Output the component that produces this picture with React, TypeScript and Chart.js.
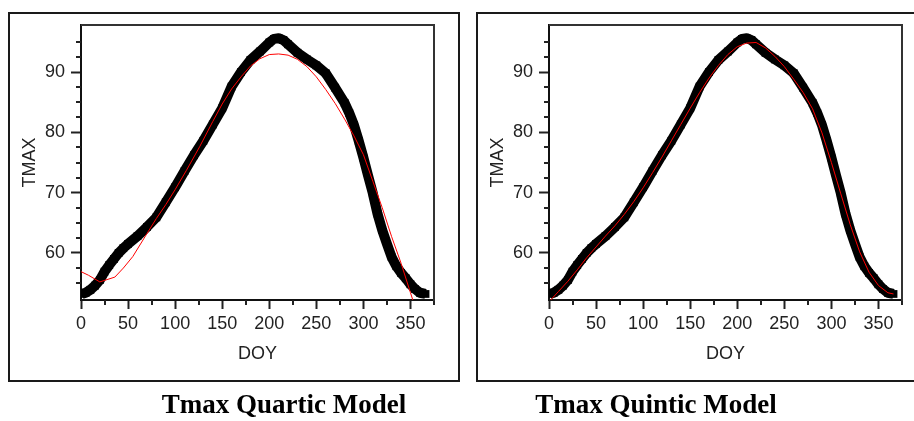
import React, { useEffect, useRef } from "react";
import { Chart, registerables } from "chart.js";

Chart.register(...registerables);

// Observed daily mean Tmax (black band)
const DOY_OBS = [1, 5, 10, 15, 20, 25, 30, 35, 40, 45, 50, 60, 70, 80, 90, 100, 110, 120, 130, 140, 150, 160, 170, 180, 190, 200, 205, 210, 215, 220, 230, 240, 250, 260, 270, 280, 285, 290, 295, 300, 305, 310, 315, 320, 325, 330, 335, 340, 345, 350, 355, 360, 366];
const TMAX_OBS = [53.2, 53.4, 53.9, 54.6, 55.5, 56.9, 58.0, 59.0, 60.0, 60.8, 61.5, 62.8, 64.3, 65.9, 68.4, 70.9, 73.6, 76.2, 78.6, 81.3, 84.0, 87.6, 90.0, 92.0, 93.4, 94.9, 95.5, 95.6, 95.3, 94.6, 93.2, 92.1, 91.1, 89.8, 87.4, 84.9, 83.2, 81.2, 78.6, 75.8, 72.8, 69.9, 66.5, 63.8, 61.5, 59.3, 57.8, 56.7, 55.8, 54.8, 54.0, 53.4, 53.2];

// Quartic model (red, left panel)
const DOY_QUARTIC = [0, 8, 20, 36, 45, 55, 70, 80, 90, 100, 112, 126, 140, 150, 160, 170, 180, 190, 200, 210, 220, 230, 240, 250, 260, 270, 280, 290, 300, 310, 320, 330, 340, 350, 355];
const TMAX_QUARTIC = [56.9, 56.3, 55.2, 56.0, 57.5, 59.4, 63.2, 65.7, 68.0, 70.5, 73.7, 77.6, 81.8, 84.7, 87.2, 89.2, 91.0, 92.2, 92.9, 93.0, 92.8, 92.1, 90.9, 89.2, 87.1, 84.8, 82.2, 79.4, 76.3, 71.9, 67.5, 62.7, 58.3, 53.4, 51.0];

// Quintic model (red, right panel)
const DOY_QUINTIC = [0, 10, 20, 30, 40, 50, 60, 70, 80, 90, 100, 110, 120, 130, 140, 150, 160, 170, 180, 190, 200, 210, 220, 230, 240, 250, 260, 270, 280, 290, 300, 310, 320, 330, 340, 350, 360, 366];
const TMAX_QUINTIC = [51.9, 53.6, 55.3, 57.2, 59.2, 61.0, 62.8, 64.5, 66.4, 68.5, 70.8, 73.3, 75.9, 78.6, 81.3, 84.0, 86.6, 89.0, 91.1, 92.9, 94.2, 94.8, 94.9, 94.0, 92.6, 90.9, 88.8, 86.6, 83.9, 79.9, 75.0, 69.8, 64.7, 60.2, 56.8, 54.6, 53.4, 53.2];

const X_MAJOR = [0, 50, 100, 150, 200, 250, 300, 350];
const X_MINOR = [25, 75, 125, 175, 225, 275, 325, 375];
const Y_MAJOR = [60, 70, 80, 90];
const Y_MINOR = [55, 57.5, 62.5, 65, 67.5, 72.5, 75, 77.5, 82.5, 85, 87.5, 92.5, 95];

const PANEL_TITLES = ["Tmax Quartic Model", "Tmax Quintic Model"];
const X_TITLE = "DOY";
const Y_TITLE = "TMAX";

const SANS = '"Liberation Sans", Arial, sans-serif';
const SERIF = '"Liberation Serif", "Times New Roman", serif';

const frameAndMinor = {
  id: "frameAndMinor",
  afterDraw(chart: any) {
    const { ctx, chartArea: a, scales } = chart;
    const x = scales.x;
    const y = scales.y;
    ctx.save();
    ctx.strokeStyle = "#222";
    ctx.lineWidth = 2;
    ctx.beginPath();
    for (const v of X_MINOR) {
      const px = Math.round(x.getPixelForValue(v));
      ctx.moveTo(px, a.bottom);
      ctx.lineTo(px, a.bottom + 5);
    }
    for (const v of Y_MINOR) {
      const py = Math.round(y.getPixelForValue(v));
      ctx.moveTo(a.left, py);
      ctx.lineTo(a.left - 5, py);
    }
    ctx.stroke();
    ctx.strokeStyle = "#333";
    ctx.lineWidth = 2;
    ctx.beginPath();
    ctx.moveTo(a.left, a.top);
    ctx.lineTo(a.right, a.top);
    ctx.lineTo(a.right, a.bottom + 1);
    ctx.stroke();
    ctx.restore();
  },
};

function Panel({ offset, fitX, fitY }: { offset: number; fitX: number[]; fitY: number[] }) {
  const ref = useRef<HTMLCanvasElement | null>(null);
  useEffect(() => {
    if (!ref.current) return;
    const obs = DOY_OBS.map((d, i) => ({ x: d, y: TMAX_OBS[i] }));
    const fit = fitX.map((d, i) => ({ x: d, y: fitY[i] }));
    const chart = new Chart(ref.current, {
      type: "line",
      data: {
        datasets: [
          {
            data: fit,
            borderColor: "#ff0000",
            borderWidth: 1,
            pointRadius: 0,
            tension: 0,
            order: 1,
          },
          {
            data: obs,
            borderColor: "#000",
            borderWidth: 10,
            borderJoinStyle: "round",
            pointStyle: "rect",
            pointRadius: 5.5,
            pointBorderWidth: 0,
            pointBackgroundColor: "#000",
            tension: 0,
            order: 2,
          },
        ],
      } as any,
      options: {
        responsive: false,
        animation: false,
        events: [],
        layout: { padding: { left: 0, top: 25, right: 36, bottom: 46 } },
        plugins: { legend: { display: false }, tooltip: { enabled: false } },
        scales: {
          x: {
            type: "linear",
            min: 0,
            max: 375,
            afterBuildTicks: (s: any) => {
              s.ticks = X_MAJOR.map((v) => ({ value: v }));
            },
            afterFit: (s: any) => {
              s.height = 75;
            },
            grid: { drawOnChartArea: false, drawTicks: true, tickLength: 9, tickColor: "#222", tickWidth: 2 },
            border: { display: true, color: "#111", width: 2 },
            ticks: { color: "#222", font: { family: SANS, size: 18 }, padding: 4, maxRotation: 0, autoSkip: false },
            title: { display: true, text: X_TITLE, color: "#222", font: { family: SANS, size: 18 }, padding: { top: 0, bottom: 10 } },
          },
          y: {
            type: "linear",
            min: 52.2,
            max: 97.8,
            afterBuildTicks: (s: any) => {
              s.ticks = Y_MAJOR.map((v) => ({ value: v }));
            },
            afterFit: (s: any) => {
              s.width = 81;
            },
            grid: { drawOnChartArea: false, drawTicks: true, tickLength: 10, tickColor: "#222", tickWidth: 2 },
            border: { display: true, color: "#111", width: 2 },
            ticks: { color: "#222", font: { family: SANS, size: 18 }, padding: 6 },
            title: { display: true, text: Y_TITLE, color: "#222", font: { family: SANS, size: 18 }, padding: { top: 19, bottom: 0 } },
          },
        },
      } as any,
      plugins: [frameAndMinor],
    });
    return () => chart.destroy();
  }, [fitX, fitY]);
  return (
    <canvas
      ref={ref}
      width={470}
      height={421}
      style={{ position: "absolute", left: offset, top: 0, width: 470, height: 421 }}
    />
  );
}

export default function App() {
  const SHIFT = 468;
  const boxStyle = (left: number): React.CSSProperties => ({
    position: "absolute",
    left,
    top: 12,
    width: 452,
    height: 370,
    border: "2px solid #1a1a1a",
    boxSizing: "border-box",
  });
  const titleStyle = (center: number): React.CSSProperties => ({
    position: "absolute",
    left: center - 200,
    width: 400,
    top: 391,
    textAlign: "center",
    fontFamily: SERIF,
    fontWeight: "bold",
    fontSize: 27,
    lineHeight: "27px",
    color: "#000",
    whiteSpace: "nowrap",
  });
  return (
    <div style={{ position: "absolute", left: 0, top: 0, width: 914, height: 421, overflow: "hidden", background: "#fff" }}>
      <div style={boxStyle(8)} />
      <div style={boxStyle(8 + SHIFT)} />
      <Panel offset={0} fitX={DOY_QUARTIC} fitY={TMAX_QUARTIC} />
      <Panel offset={SHIFT} fitX={DOY_QUINTIC} fitY={TMAX_QUINTIC} />
      <div style={titleStyle(284)}>{PANEL_TITLES[0]}</div>
      <div style={titleStyle(656)}>{PANEL_TITLES[1]}</div>
    </div>
  );
}
